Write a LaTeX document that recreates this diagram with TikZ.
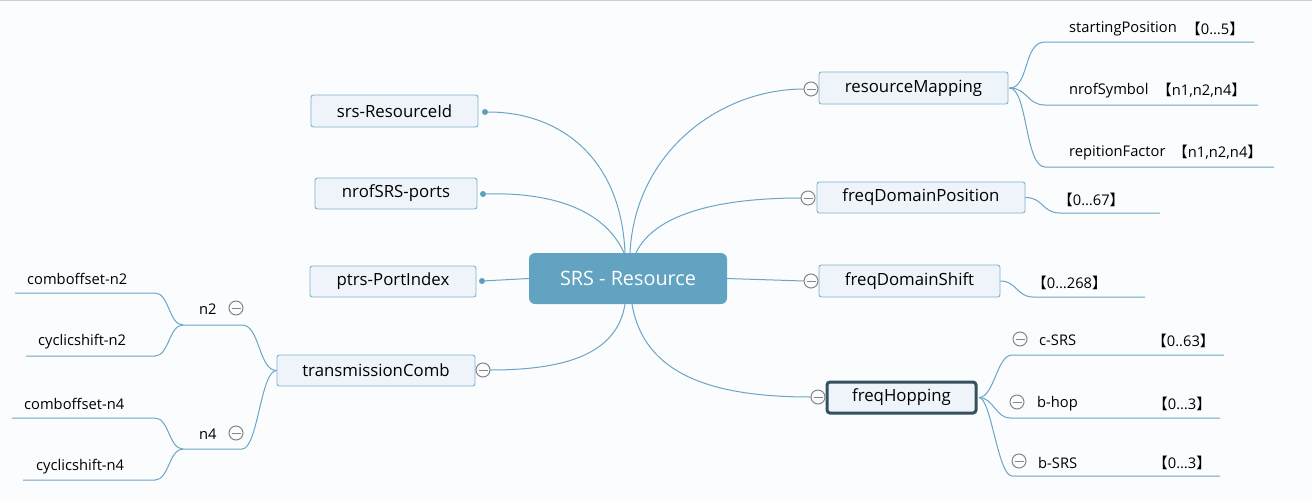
\documentclass[tikz,border=0pt]{standalone}
\usepackage{fontspec}
\setmainfont{Open Sans}
\newfontfamily\cjk{Noto Sans CJK SC}
\newcommand{\lbk}{{\cjk 【}}
\newcommand{\rbk}{{\cjk 】}}
\definecolor{bgc}{HTML}{FBFCFD}
\definecolor{linec}{HTML}{6AA5C6}
\definecolor{boxb}{HTML}{7FB2CE}
\definecolor{boxf}{HTML}{EEF4F9}
\definecolor{centf}{HTML}{62A3C2}
\definecolor{hopb}{HTML}{34515F}
\definecolor{minc}{HTML}{858585}
\definecolor{dotc}{HTML}{5E9EC0}
\definecolor{txt}{HTML}{000000}
\tikzset{
  box/.style={draw=boxb, fill=boxf, rounded corners=2.5pt, inner sep=0pt, line width=0.9pt,
    font=\fontsize{16.8}{17}\selectfont, text=txt},
  centbox/.style={fill=centf, rounded corners=6pt, inner sep=0pt, text=white,
    font=\fontsize{19.8}{20}\selectfont},
  conn/.style={draw=linec, line width=1pt},
  minus/.style={circle, draw=minc, line width=1pt, fill=bgc, minimum size=14pt, inner sep=0pt,
    path picture={\draw[minc, line width=1pt] ([xshift=2.5pt]path picture bounding box.west) -- ([xshift=-2.5pt]path picture bounding box.east);}},
  dotn/.style={circle, fill=dotc, minimum size=6pt, inner sep=0pt},
  leaf/.style={font=\fontsize{14.7}{15}\selectfont, text=txt, inner sep=0pt, anchor=west, yshift=-1.5pt},
}
\begin{document}
\begin{tikzpicture}[x=1pt,y=-1pt]
\fill[bgc] (0,0) rectangle (1312,501);
\useasboundingbox (0,0) rectangle (1312,501);
\draw[gray!40, line width=1pt] (0,0.5) -- (1312,0.5);

% main nodes
\node[centbox, minimum width=198pt, minimum height=51pt] (c) at (628,278.5) {SRS - Resource};
\node[box, minimum width=167pt, minimum height=32pt] (rid) at (394.5,111) {srs-ResourceId};
\node[box, minimum width=162pt, minimum height=31pt] (nsp) at (396,193.5) {nrofSRS-ports};
\node[box, minimum width=166pt, minimum height=31pt] (ptrs) at (393,281.5) {ptrs-PortIndex};
\node[box, minimum width=198pt, minimum height=31pt] (tc) at (376,370.5) {transmissionComb};
\node[box, minimum width=189pt, minimum height=32pt] (rm) at (913.5,88) {resourceMapping};
\node[box, minimum width=208pt, minimum height=31pt] (fdp) at (921,197.5) {freqDomainPosition};
\node[box, minimum width=181pt, minimum height=32pt] (fds) at (909.5,281) {freqDomainShift};
\node[box, draw=hopb, line width=3pt, rounded corners=3pt, minimum width=149pt, minimum height=31pt] (fh) at (901.5,397.5) {freqHopping};

% dots
\node[dotn] (d1) at (485,112) {};
\node[dotn] (d2) at (483,194) {};
\node[dotn] (d3) at (482,281) {};

% connectors from centre
\draw[conn] ([xshift=-3pt]c.north) .. controls +(-4,-95) and +(75,0) .. (d1);
\draw[conn] ([xshift=-4pt]c.north) .. controls +(-18,-40) and +(75,-2) .. (d2);
\draw[conn] (c.west) -- (d3);
\draw[conn] ([xshift=2pt]c.north) .. controls +(5,-100) and +(-85,0) .. (804,89) coordinate (rmin);
\draw[conn] ([xshift=8pt]c.north) .. controls +(18,-38) and +(-85,0) .. (801,198) coordinate (fdpin);
\draw[conn] (c.east) -- (804,281) coordinate (fdsin);
\draw[conn] ([xshift=4pt]c.south) .. controls +(12,70) and +(-100,0) .. (811,397) coordinate (fhin);
\draw[conn] ([xshift=-3pt]c.south) .. controls +(-8,50) and +(75,0) .. (490,370) coordinate (tcin);

\node[minus] (mrm) at (811,89) {};
\node[minus] (mfdp) at (808,198) {};
\node[minus] (mfds) at (811,281) {};
\node[minus] (mfh) at (818,397) {};
\node[minus] (mtc) at (483,370) {};

% resourceMapping children
\coordinate (u1) at (1045,42); \coordinate (u1e) at (1254,42);
\coordinate (u2) at (1045,105); \coordinate (u2e) at (1258,105);
\coordinate (u3) at (1045,167); \coordinate (u3e) at (1274,167);
\draw[conn] ([xshift=1pt]rm.east) .. controls +(20,0) and +(-22,0) .. (u1) -- (u1e);
\draw[conn] ([xshift=1pt]rm.east) .. controls +(18,0) and +(-18,0) .. (u2) -- (u2e);
\draw[conn] ([xshift=1pt]rm.east) .. controls +(18,0) and +(-20,0) .. (u3) -- (u3e);
\node[leaf] (t1) at (1069,27) {startingPosition};
\node[leaf] (v1) at (1186,27) {\lbk0…5\rbk};
\node[leaf] (t2) at (1069,89) {nrofSymbol};
\node[leaf] (v2) at (1157,89) {\lbk n1,n2,n4\rbk};
\node[leaf] (t3) at (1069,151) {repitionFactor};
\node[leaf] (v3) at (1173,151) {\lbk n1,n2,n4\rbk};

% freqDomainPosition / Shift children
\coordinate (u4) at (1060,213); \coordinate (u4e) at (1160,213);
\draw[conn] (fdp.east) .. controls +(18,0) and +(-18,0) .. (u4) -- (u4e);
\node[leaf] (v4) at (1058,198) {\lbk0…67\rbk};
\coordinate (u5) at (1033,297); \coordinate (u5e) at (1145,297);
\draw[conn] (fds.east) .. controls +(16,0) and +(-16,0) .. (u5) -- (u5e);
\node[leaf] (v5) at (1032,281) {\lbk0…268\rbk};

% freqHopping children
\coordinate (u6) at (1012,355); \coordinate (u6e) at (1224,355);
\coordinate (u7) at (1010,418); \coordinate (u7e) at (1220,418);
\coordinate (u8) at (1012,476); \coordinate (u8e) at (1220,476);
\draw[conn] ([xshift=1.5pt]fh.east) .. controls +(15,0) and +(-15,0) .. (u6) -- (u6e);
\draw[conn] ([xshift=1.5pt]fh.east) .. controls +(14,0) and +(-14,0) .. (u7) -- (u7e);
\draw[conn] ([xshift=1.5pt]fh.east) .. controls +(12,0) and +(-14,0) .. (u8) -- (u8e);
\node[minus] (m6) at (1020,339) {};
\node[leaf] (t6) at (1039,339) {c-SRS};
\node[leaf] (v6) at (1152,339) {\lbk0..63\rbk};
\node[minus] (m7) at (1017,402) {};
\node[leaf] (t7) at (1037,402) {b-hop};
\node[leaf] (v7) at (1153,402) {\lbk0…3\rbk};
\node[minus] (m8) at (1019,461) {};
\node[leaf] (t8) at (1038,461) {b-SRS};
\node[leaf] (v8) at (1153,461) {\lbk0…3\rbk};

% transmissionComb children
\coordinate (n2r) at (242,325); \coordinate (n2l) at (183,325);
\coordinate (n4r) at (242,449); \coordinate (n4l) at (183,449);
\draw[conn] (tc.west) .. controls +(-18,0) and +(18,0) .. (n2r) -- (n2l);
\draw[conn] (tc.west) .. controls +(-16,0) and +(16,0) .. (n4r) -- (n4l);
\node[leaf] (n2) at (199,308) {n2};
\node[minus] (mn2) at (236,308) {};
\node[leaf] (n4) at (199,433) {n4};
\node[minus] (mn4) at (236,433) {};

\coordinate (a1) at (155,293); \coordinate (a1e) at (15,293);
\coordinate (a2) at (155,356); \coordinate (a2e) at (26,356);
\coordinate (a3) at (155,418); \coordinate (a3e) at (12,418);
\coordinate (a4) at (155,480); \coordinate (a4e) at (23,480);
\draw[conn] (n2l) .. controls +(-14,0) and +(14,0) .. (a1) -- (a1e);
\draw[conn] (n2l) .. controls +(-14,0) and +(14,0) .. (a2) -- (a2e);
\draw[conn] (n4l) .. controls +(-14,0) and +(14,0) .. (a3) -- (a3e);
\draw[conn] (n4l) .. controls +(-14,0) and +(14,0) .. (a4) -- (a4e);
\node[leaf] (l1) at (27,277) {comboffset-n2};
\node[leaf] (l2) at (38,340) {cyclicshift-n2};
\node[leaf] (l3) at (24,402) {comboffset-n4};
\node[leaf] (l4) at (36,465) {cyclicshift-n4};
\end{tikzpicture}
\end{document}
